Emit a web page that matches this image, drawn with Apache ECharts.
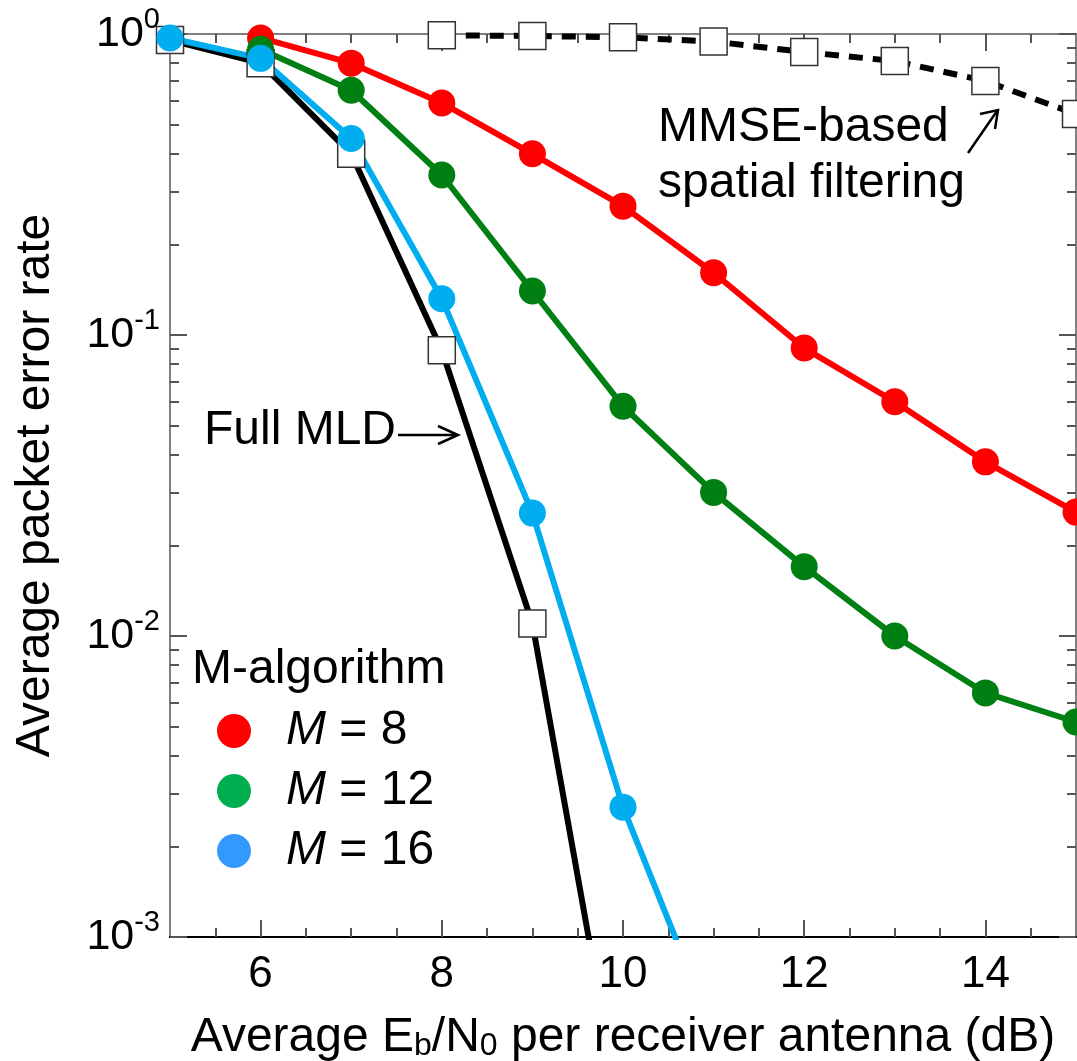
<!DOCTYPE html>
<html>
<head>
<meta charset="utf-8">
<script src="https://cdn.jsdelivr.net/npm/echarts@6/dist/echarts.min.js"></script>
<style>
  html, body { margin: 0; padding: 0; background: #fff; }
  #chart { width: 1077px; height: 1061px; }
</style>
</head>
<body>
<div id="chart"></div>
<script>
// Eb/N0 points (dB)
const ebn0 = [5, 6, 7, 8, 9, 10, 11, 12, 13, 14, 15]

// packet error rates
const fullMld = [0.955, 0.80, 0.40, 0.089, 0.011, 0.00023]
const mmse = [null, null, null, 0.99, 0.985, 0.975, 0.944, 0.871, 0.813, 0.698, 0.542]
const m8 = [null, 0.97, 0.80, 0.59, 0.40, 0.268, 0.161, 0.0905, 0.060, 0.0379, 0.0258]
const m12 = [null, 0.89, 0.65, 0.34, 0.14, 0.058, 0.030, 0.0170, 0.0100, 0.00647, 0.00518]
const m16 = [0.97, 0.83, 0.45, 0.132, 0.0256, 0.0027, 0.00048]

// axis ticks
const xMajor = [6, 8, 10, 12, 14]
const xMinor = [5.5, 6.5, 7, 7.5, 8.5, 9, 9.5, 10.5, 11, 11.5, 12.5, 13, 13.5, 14.5]
const yMajor = [0.001, 0.01, 0.1, 1]
const decades = [0.001, 0.01, 0.1]
const mults = [2, 3, 4, 5, 6, 7, 8, 9]
const yMinor = []
decades.forEach(d => mults.forEach(m => yMinor.push(+(d * m).toPrecision(3))))

const FONT = '"Liberation Sans", Arial, sans-serif'
const BIG = 48

function pairs(ys) {
  const out = []
  for (let i = 0; i < ys.length; i++) {
    if (ys[i] != null) out.push([ebn0[i], ys[i]])
  }
  return out
}

const chart = echarts.init(document.getElementById('chart'), null, { renderer: 'canvas' })

function xAxisDef(pos, ticks, len, showLabel, lineColor, showName) {
  return {
    type: 'value', min: 5, max: 15, position: pos,
    axisLine: { show: true, onZero: false, lineStyle: { color: lineColor, width: 2 } },
    axisTick: { show: true, inside: true, length: len, customValues: ticks, lineStyle: { color: '#555', width: 2 } },
    axisLabel: {
      show: showLabel, customValues: ticks, margin: 16,
      fontFamily: FONT, fontSize: 44, color: '#000'
    },
    splitLine: { show: false },
    name: showName ? 'Average E{sub|b}/N{sub|0} per receiver antenna (dB)' : '',
    nameLocation: 'middle',
    nameGap: 77,
    nameTextStyle: {
      fontFamily: FONT, fontSize: BIG, color: '#000',
      rich: {
        sub: { fontFamily: FONT, fontSize: 32, color: '#000', verticalAlign: 'bottom', lineHeight: 32, padding: [15, 0, 0, 0] }
      }
    }
  }
}

function yAxisDef(pos, ticks, len, showLabel, showName) {
  return {
    type: 'log', logBase: 10, min: 0.001, max: 1, position: pos,
    axisLine: { show: true, onZero: false, lineStyle: { color: '#808080', width: 2 } },
    axisTick: { show: true, inside: true, length: len, customValues: ticks, lineStyle: { color: '#555', width: 2 } },
    axisLabel: {
      show: showLabel, customValues: ticks, margin: 10,
      fontFamily: FONT, fontSize: 43, color: '#000',
      formatter: v => '10{sup|' + Math.round(Math.log10(v)) + '}',
      rich: {
        sup: { fontFamily: FONT, fontSize: 29, color: '#000', verticalAlign: 'top', padding: [0, 0, 28, 0] }
      }
    },
    splitLine: { show: false },
    name: showName ? 'Average packet error rate' : '',
    nameLocation: 'middle',
    nameGap: 110,
    nameTextStyle: { fontFamily: FONT, fontSize: BIG, color: '#000' }
  }
}

const circle = (name, data, color) => ({
  name: name,
  type: 'line',
  data: pairs(data),
  symbol: 'circle',
  symbolSize: 27,
  clip: true,
  lineStyle: { color: color, width: 6 },
  itemStyle: { color: color },
  emphasis: { disabled: true }
})

const square = (name, data, dashed) => ({
  name: name,
  type: 'line',
  data: pairs(data),
  symbol: 'rect',
  symbolSize: 27,
  clip: true,
  lineStyle: { color: '#000', width: 6, type: dashed ? [14, 10] : 'solid' },
  itemStyle: { color: '#fff', borderColor: '#333', borderWidth: 1.5 },
  emphasis: { disabled: true }
})

const option = {
  animation: false,
  backgroundColor: '#fff',
  grid: { left: 170, right: 1, top: 34, bottom: 124, containLabel: false, outerBoundsMode: 'none' },
  xAxis: [
    xAxisDef('bottom', xMajor, 17, true, '#000', true),
    xAxisDef('bottom', xMinor, 9, false, '#000', false),
    xAxisDef('top', xMajor, 17, false, '#808080', false),
    xAxisDef('top', xMinor, 9, false, '#808080', false)
  ],
  yAxis: [
    yAxisDef('left', yMajor, 17, true, true),
    yAxisDef('left', yMinor, 9, false, false),
    yAxisDef('right', yMajor, 17, false, false),
    yAxisDef('right', yMinor, 9, false, false)
  ],
  legend: {
    orient: 'vertical',
    left: 217,
    top: 707,
    padding: 0,
    itemWidth: 34,
    itemHeight: 34,
    itemGap: 12,
    icon: 'circle',
    selectedMode: false,
    data: [
      { name: 'M = 8', itemStyle: { color: '#ff0000' } },
      { name: 'M = 12', itemStyle: { color: '#00b050' } },
      { name: 'M = 16', itemStyle: { color: '#3399ff' } }
    ],
    formatter: name => '{i|M} = ' + name.split('= ')[1],
    textStyle: {
      fontFamily: FONT, fontSize: BIG, color: '#000', lineHeight: 48,
      rich: {
        i: { fontFamily: FONT, fontSize: BIG, fontStyle: 'italic', color: '#000', padding: [0, 0, 0, 30] }
      }
    }
  },
  graphic: [
    { type: 'text', left: 192, top: 646, style: { text: 'M-algorithm', font: BIG + 'px ' + FONT, fill: '#000' } },
    { type: 'text', left: 204, top: 407, style: { text: 'Full MLD', font: BIG + 'px ' + FONT, fill: '#000' } },
    { type: 'line', shape: { x1: 398, y1: 435, x2: 457, y2: 435 }, style: { stroke: '#000', lineWidth: 2.5 } },
    { type: 'polyline', shape: { points: [[438, 426], [458, 435], [438, 444]] }, style: { stroke: '#000', lineWidth: 2.5, fill: null } },
    { type: 'text', left: 658, top: 104, style: { text: 'MMSE-based', font: BIG + 'px ' + FONT, fill: '#000' } },
    { type: 'text', left: 658, top: 160, style: { text: 'spatial filtering', font: BIG + 'px ' + FONT, fill: '#000' } },
    { type: 'line', shape: { x1: 968, y1: 153, x2: 997, y2: 111 }, style: { stroke: '#000', lineWidth: 2.5 } },
    { type: 'polyline', shape: { points: [[980, 114], [998, 110], [995, 129]] }, style: { stroke: '#000', lineWidth: 2.5, fill: null } }
  ],
  series: [
    square('Full MLD', fullMld, false),
    square('MMSE-based spatial filtering', mmse, true),
    circle('M = 8', m8, '#ff0000'),
    circle('M = 12', m12, '#008013'),
    circle('M = 16', m16, '#00aeef')
  ]
}

chart.setOption(option)
</script>
</body>
</html>
